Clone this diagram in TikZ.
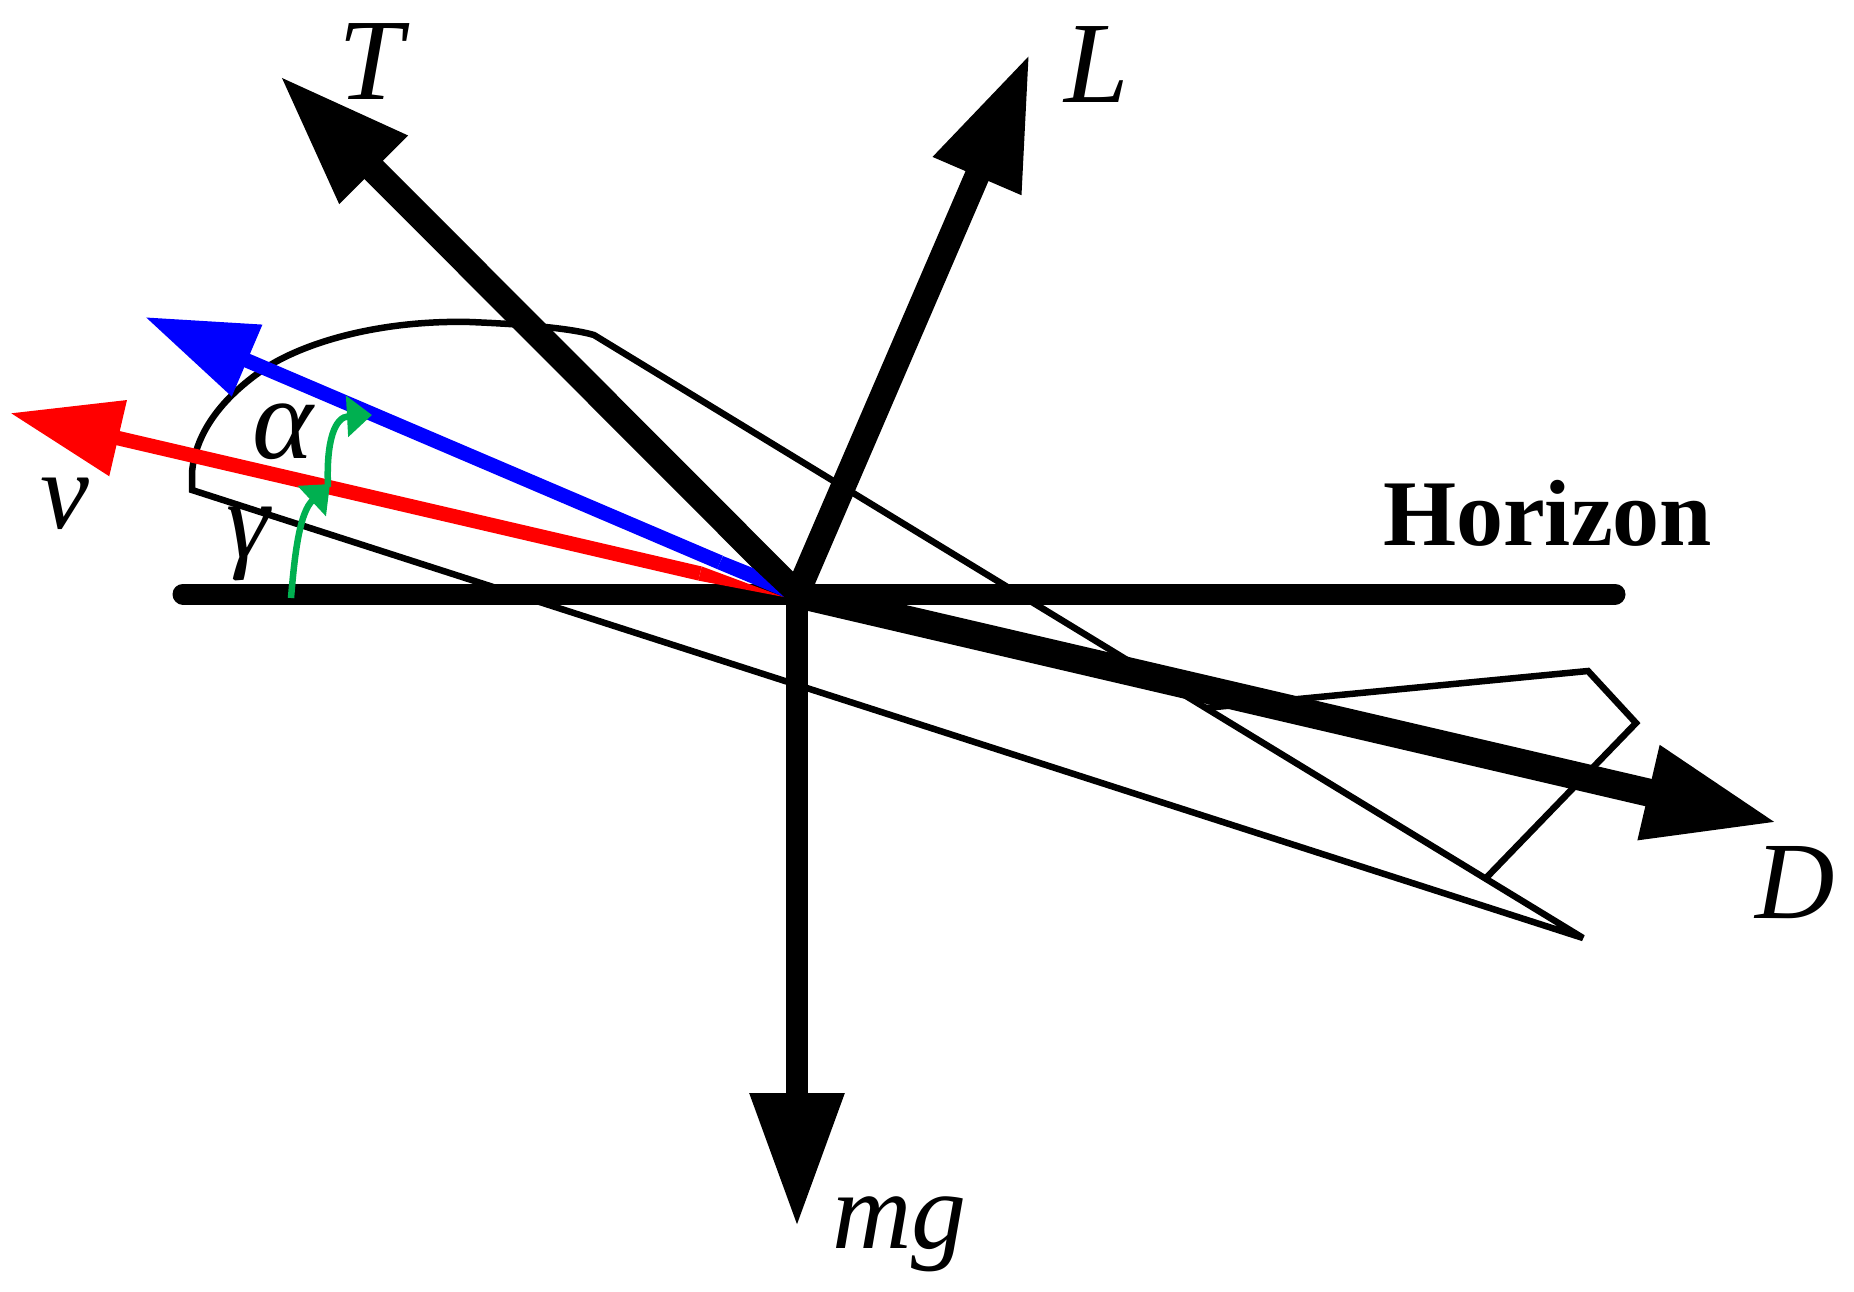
\documentclass[tikz,border=0pt]{standalone}
\usepackage{fontspec}
\setmainfont{Liberation Serif}
\usetikzlibrary{arrows.meta}
\definecolor{greenarc}{HTML}{00B050}
\tikzset{
  x=1pt,y=-1pt,
  lab/.style={inner sep=0pt,outer sep=0pt,anchor=base west,font=\fontsize{110}{110}\selectfont\itshape},
  labbig/.style={inner sep=0pt,outer sep=0pt,anchor=base west,font=\fontsize{116}{116}\selectfont\itshape},
  hlab/.style={inner sep=0pt,outer sep=0pt,anchor=base west,font=\fontsize{94}{94}\selectfont\bfseries},
  bodyline/.style={draw=black,line width=6.5pt,line join=miter,miter limit=4},
  force/.style={draw=black,-{Triangle[length=134pt,width=89pt]}},
  vel/.style={line width=14.5pt,-{Triangle[length=111pt,width=74pt]}},
  arc/.style={draw=greenarc,line width=6.5pt,-{Triangle[length=25pt,width=40pt,fill=greenarc]}}
}
\begin{document}
\begin{tikzpicture}
\useasboundingbox (0,0) rectangle (1854,1291);
% anchor points
\coordinate (O) at (797,594);
\coordinate (hl) at (183,594);
\coordinate (hr) at (1615,594);
\coordinate (Ttip) at (279,75);
\coordinate (Ltip) at (1030,53);
\coordinate (Dtip) at (1779,823);
\coordinate (Mtip) at (797,1227);
\coordinate (Btip) at (145,317);
\coordinate (Bs) at (720,562.4);
\coordinate (Rtip) at (10,413);
\coordinate (Rs) at (700,573.5);
\coordinate (g1a) at (291,598);
\coordinate (g1b) at (330,484);
\coordinate (g2a) at (328,487);
\coordinate (g2b) at (372,415);
% labels
\node[labbig] (lT) at (338,99) {T};
\node[labbig] (lL) at (1064,102) {L};
\node[lab] (lD) at (1755,918) {D};
\node[lab] (lM) at (832,1248) {mg};
\node[lab] (lv) at (40,528) {v};
\node[labbig] (la) at (252,458) {α};
\node[lab] (lg) at (226,557) {γ};
\node[hlab] (lH) at (1383,545) {Horizon};
% aircraft outline
\draw[bodyline] (192,472) .. controls (196,430) and (225,395) .. (267,367)
  .. controls (310,340) and (385,320) .. (470,322)
  .. controls (520,324) and (570,328) .. (594,335)
  -- (1583,938) -- (192,490) -- cycle;
\draw[bodyline] (1487,877) -- (1636,723) -- (1588,671) -- (1205,708);
% horizon and forces
\draw[line width=21pt,line cap=round] (hl) -- (hr);
\draw[force,line width=26pt] (O) -- (Ttip);
\draw[force,line width=25pt] (O) -- (Ltip);
\draw[force,line width=28pt] (O) -- (Dtip);
\draw[force,line width=22pt] (O) -- (Mtip);
% velocity and body-axis vectors
\fill[red] (701.7,566.4) -- (784,597) -- (698.3,580.6) -- cycle;
\draw[vel,draw=red,fill=red] (Rs) -- (Rtip);
\fill[blue] (723,556) -- (753,568) -- (784,597) -- (717,569) -- cycle;
\draw[vel,draw=blue,fill=blue] (Bs) -- (Btip);
% angle arcs
\draw[arc] (g1a) .. controls (295,550) and (300,512) .. (g1b);
\draw[arc] (g2a) .. controls (326,440) and (335,417) .. (g2b);
\end{tikzpicture}
\end{document}
